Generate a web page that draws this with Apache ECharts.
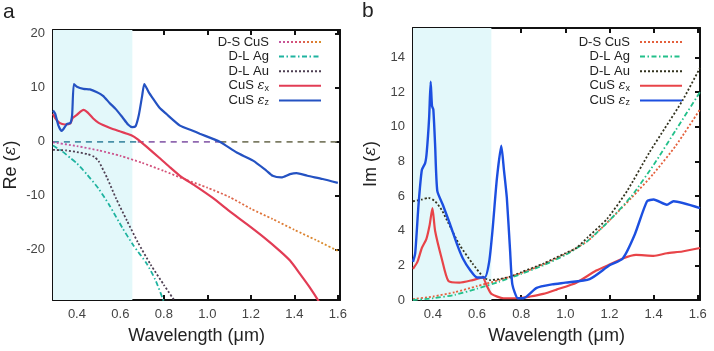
<!DOCTYPE html>
<html>
<head>
<meta charset="utf-8">
<script src="https://cdn.jsdelivr.net/npm/echarts@6/dist/echarts.min.js"></script>
<style>
html, body { margin: 0; padding: 0; background: #fff; }
#chart { width: 714px; height: 351px; }
</style>
</head>
<body>
<div id="chart"></div>
<script>
// tick labels
const wlTicks = [0.4, 0.6, 0.8, 1.0, 1.2, 1.4, 1.6];
const reTicks = [-20, -10, 0, 10, 20];
const imTicks = [0, 2, 4, 6, 8, 10, 12, 14];
const legendNames = ['D-S CuS', 'D-L Ag', 'D-L Au', 'CuS εx', 'CuS εz'];

// panel a : Re(eps), [wavelength um, value]
const reDS = [[0.29, -0.1], [0.4, -0.8], [0.5, -1.6], [0.6, -2.6], [0.7, -3.9], [0.8, -5.4], [0.9, -7.0], [1.0, -8.5], [1.1, -10.2], [1.2, -12.4], [1.3, -14.3], [1.4, -16.3], [1.5, -18.2], [1.6, -20.2]];
const reAg = [[0.29, -0.7], [0.33, -1.7], [0.37, -3.0], [0.4, -4.0], [0.445, -6.0], [0.5, -8.7], [0.55, -11.8], [0.61, -16.0], [0.66, -19.2], [0.72, -22.5], [0.76, -25.5], [0.8, -29.6]];
const reAu = [[0.29, -1.5], [0.35, -1.6], [0.4, -1.9], [0.45, -2.3], [0.48, -2.8], [0.5, -3.6], [0.54, -6.8], [0.58, -10.5], [0.63, -14.6], [0.68, -18.6], [0.74, -22.8], [0.8, -26.5], [0.85, -29.5]];
const reX = [[0.29, 5.2], [0.30, 4.4], [0.32, 3.5], [0.345, 3.2], [0.37, 3.4], [0.38, 4.4], [0.40, 5.0], [0.43, 5.9], [0.45, 5.4], [0.475, 4.3], [0.5, 3.5], [0.55, 2.6], [0.6, 1.9], [0.63, 1.5], [0.65, 1.2], [0.675, 0.6], [0.72, -0.9], [0.78, -3.0], [0.83, -4.8], [0.874, -6.3], [0.95, -8.3], [1.025, -10.4], [1.1, -12.8], [1.18, -15.2], [1.26, -17.7], [1.333, -20.2], [1.38, -22.0], [1.425, -24.4], [1.47, -26.9], [1.51, -29.4], [1.53, -31]];
const reZ = [[0.29, 5.8], [0.30, 5.2], [0.315, 3.0], [0.33, 2.0], [0.354, 3.3], [0.37, 3.5], [0.378, 5.0], [0.386, 10.7], [0.40, 10.2], [0.43, 9.8], [0.46, 9.7], [0.49, 9.2], [0.52, 8.5], [0.55, 7.2], [0.58, 6.0], [0.61, 4.5], [0.635, 3.2], [0.655, 2.7], [0.67, 2.9], [0.685, 5.0], [0.70, 8.5], [0.71, 10.7], [0.73, 9.2], [0.75, 8.0], [0.78, 6.3], [0.81, 5.2], [0.874, 3.0], [0.93, 2.1], [0.965, 1.5], [1.057, 0.0], [1.135, -2.0], [1.21, -3.5], [1.27, -5.3], [1.30, -6.3], [1.34, -6.6], [1.38, -6.0], [1.41, -5.8], [1.46, -6.3], [1.53, -6.9], [1.6, -7.6]];

// panel b : Im(eps)
const imDS = [[0.31, 0.05], [0.4, 0.2], [0.5, 0.45], [0.6, 0.8], [0.7, 1.15], [0.8, 1.55], [0.9, 2.05], [1.0, 2.65], [1.1, 3.4], [1.2, 4.6], [1.3, 5.9], [1.4, 7.3], [1.5, 8.9], [1.61, 11.0]];
const imAg = [[0.31, 0.0], [0.4, 0.1], [0.5, 0.3], [0.6, 0.65], [0.7, 1.05], [0.8, 1.5], [0.9, 2.0], [1.0, 2.6], [1.1, 3.4], [1.2, 4.6], [1.3, 6.0], [1.4, 7.8], [1.5, 9.8], [1.61, 12.0]];
const imAu = [[0.31, 5.7], [0.35, 5.8], [0.38, 5.9], [0.41, 5.7], [0.44, 5.2], [0.46, 4.7], [0.52, 3.2], [0.58, 2.1], [0.63, 1.3], [0.66, 1.15], [0.7, 1.2], [0.75, 1.35], [0.8, 1.6], [0.9, 2.1], [1.0, 2.7], [1.05, 3.0], [1.1, 3.6], [1.19, 4.7], [1.28, 6.3], [1.38, 8.5], [1.45, 9.9], [1.53, 11.5], [1.61, 13.4]];
const imX = [[0.31, 1.8], [0.33, 2.2], [0.35, 3.0], [0.37, 3.5], [0.385, 4.3], [0.398, 5.3], [0.41, 4.0], [0.44, 2.4], [0.47, 1.1], [0.52, 1.0], [0.58, 1.15], [0.625, 1.3], [0.645, 0.8], [0.665, 0.35], [0.72, 0.1], [0.78, 0.1], [0.84, 0.2], [0.9, 0.35], [0.96, 0.6], [1.05, 1.0], [1.14, 1.7], [1.21, 2.1], [1.26, 2.4], [1.32, 2.6], [1.40, 2.55], [1.46, 2.7], [1.53, 2.8], [1.61, 3.0]];
const imZ = [[0.31, 2.2], [0.32, 2.7], [0.335, 5.5], [0.35, 7.5], [0.365, 7.9], [0.372, 8.5], [0.383, 10.5], [0.39, 12.6], [0.396, 11.2], [0.402, 11.0], [0.41, 9.0], [0.42, 6.3], [0.445, 5.5], [0.477, 4.4], [0.51, 3.2], [0.536, 2.4], [0.57, 1.7], [0.6, 1.3], [0.635, 1.3], [0.655, 2.2], [0.67, 4.0], [0.69, 7.0], [0.71, 8.9], [0.722, 7.5], [0.735, 5.9], [0.75, 2.8], [0.76, 0.9], [0.785, 0.1], [0.81, 0.1], [0.87, 0.7], [0.94, 0.9], [1.0, 1.0], [1.11, 1.2], [1.2, 2.0], [1.26, 2.4], [1.315, 3.8], [1.37, 5.7], [1.40, 5.8], [1.46, 5.5], [1.49, 5.7], [1.61, 5.3]];

// shaded band and zero line pieces
const bandA = [0.29, 0.655];
const bandB = [0.31, 0.665];
const zeroTeal = [[0.29, 0], [0.68, 0]];
const zeroPurple = [[0.68, 0], [1.06, 0]];
const zeroOlive = [[1.06, 0], [1.61, 0]];

const font = 'Liberation Sans, Arial, sans-serif';
const chart = echarts.init(document.getElementById('chart'));

const xMinA = 0.29, xMaxA = 1.61, yMinA = -29.3, yMaxA = 20.7;
const xMinB = 0.31, xMaxB = 1.61, yMinB = 0, yMaxB = 15.7;

function axis(pos, min, max, ticks, grid, main, isX) {
  return {
    type: 'value',
    gridIndex: grid,
    position: pos,
    min: min,
    max: max,
    axisLine: { show: true, onZero: false, lineStyle: { color: '#111', width: 2 } },
    axisTick: { show: true, inside: true, length: 5, customValues: ticks, lineStyle: { color: '#111', width: 2 } },
    axisLabel: {
      show: main,
      customValues: ticks,
      color: '#444',
      fontSize: 13,
      fontFamily: font,
      margin: 8,
      formatter: (v) => (isX ? v.toFixed(1) : String(v)),
    },
    splitLine: { show: false },
  };
}

function line(name, data, color, type, width, g, z) {
  return {
    name: name,
    type: 'line',
    data: data,
    xAxisIndex: g * 2,
    yAxisIndex: g * 2,
    symbol: 'none',
    smooth: 0.2,
    z: z || 3,
    lineStyle: { color: color, type: type, width: width },
    itemStyle: { color: color },
  };
}

function band(range, g) {
  return {
    type: 'line',
    data: [],
    xAxisIndex: g * 2,
    yAxisIndex: g * 2,
    z: -1,
    silent: true,
    markArea: {
      silent: true,
      itemStyle: { color: '#e3f8fa' },
      data: [[{ xAxis: range[0] }, { xAxis: range[1] }]],
    },
  };
}

const dsGrad = new echarts.graphic.LinearGradient(0, 0, 1, 0, [
  { offset: 0, color: '#c058a8' },
  { offset: 0.45, color: '#d85070' },
  { offset: 0.7, color: '#e0703a' },
  { offset: 1, color: '#d89028' },
]);

const dotted = [2, 2];
const dashDot = [5, 2.5, 1.5, 2.5];

const legendFmt = (name) => {
  const n = name.slice(2);
  if (n === 'CuS εx') return 'CuS {e|ε}{s|x}{g|}';
  if (n === 'CuS εz') return 'CuS {e|ε}{s|z}{g|}';
  return n + '{g|}';
};

function legend(prefix, right) {
  return {
    orient: 'vertical',
    align: 'right',
    right: right,
    top: 35,
    padding: 0,
    itemWidth: 42,
    itemHeight: 12,
    itemGap: 0.6,
    selectedMode: false,
    itemStyle: { opacity: 0 },
    data: legendNames.map((n) => prefix + n),
    formatter: legendFmt,
    textStyle: {
      color: '#222',
      fontSize: 13,
      lineHeight: 14,
      fontFamily: font,
      rich: {
        e: { fontFamily: 'DejaVu Serif', fontStyle: 'italic', fontSize: 13, lineHeight: 14, color: '#222' },
        s: { fontSize: 9, lineHeight: 9, color: '#222', padding: [5, 0, 0, 0] },
        g: { width: 5, lineHeight: 14 },
      },
    },
  };
}

const nameStyle = {
  fontSize: 18,
  fontFamily: font,
  color: '#222',
  rich: { e: { fontFamily: 'DejaVu Serif', fontStyle: 'italic', fontSize: 17, color: '#222' } },
};

const option = {
  animation: false,
  backgroundColor: '#fff',
  textStyle: { fontFamily: font },
  grid: [
    { left: 53, right: 374, top: 30, bottom: 51 },
    { left: 413, right: 14, top: 28, bottom: 51 },
  ],
  xAxis: [
    Object.assign(axis('bottom', xMinA, xMaxA, wlTicks, 0, true, true), {
      name: 'Wavelength (μm)', nameLocation: 'middle', nameGap: 27, nameTextStyle: nameStyle,
    }),
    axis('top', xMinA, xMaxA, wlTicks, 0, false, true),
    Object.assign(axis('bottom', xMinB, xMaxB, wlTicks, 1, true, true), {
      name: 'Wavelength (μm)', nameLocation: 'middle', nameGap: 27, nameTextStyle: nameStyle,
    }),
    axis('top', xMinB, xMaxB, wlTicks, 1, false, true),
  ],
  yAxis: [
    Object.assign(axis('left', yMinA, yMaxA, reTicks, 0, true, false), {
      name: 'Re ({e|ε})', nameLocation: 'middle', nameGap: 33, nameTextStyle: nameStyle,
    }),
    axis('right', yMinA, yMaxA, reTicks, 0, false, false),
    Object.assign(axis('left', yMinB, yMaxB, imTicks, 1, true, false), {
      name: 'Im ({e|ε})', nameLocation: 'middle', nameGap: 33, nameTextStyle: nameStyle,
    }),
    axis('right', yMinB, yMaxB, imTicks, 1, false, false),
  ],
  legend: [legend('a:', 392), legend('b:', 31)],
  graphic: [
    { type: 'text', left: 3, top: 2, style: { text: 'a', fontSize: 21, fontFamily: font, fill: '#222' } },
    { type: 'text', left: 362, top: 1, style: { text: 'b', fontSize: 21, fontFamily: font, fill: '#222' } },
  ],
  series: [
    band(bandA, 0),
    line('zeroT', zeroTeal, '#4a90a8', [6, 5], 1.8, 0, 2),
    line('zeroP', zeroPurple, '#9068b0', [6, 5], 1.8, 0, 2),
    line('zeroO', zeroOlive, '#7c7c64', [6, 5], 1.8, 0, 2),
    line('a:D-S CuS', reDS, dsGrad, dotted, 1.8, 0),
    line('a:D-L Ag', reAg, '#1fb3a0', dashDot, 1.8, 0),
    line('a:D-L Au', reAu, '#4e3f52', dotted, 1.8, 0),
    line('a:CuS εx', reX, '#e23c55', 'solid', 2.2, 0, 4),
    line('a:CuS εz', reZ, '#2452c2', 'solid', 2.2, 0, 5),

    band(bandB, 1),
    line('b:D-S CuS', imDS, '#e4603c', dotted, 1.8, 1),
    line('b:D-L Ag', imAg, '#22c08a', dashDot, 1.8, 1),
    line('b:D-L Au', imAu, '#33331f', dotted, 1.8, 1),
    line('b:CuS εx', imX, '#e84448', 'solid', 2.2, 1, 4),
    line('b:CuS εz', imZ, '#1c4fe0', 'solid', 2.4, 1, 5),
  ],
};

chart.setOption(option);
</script>
</body>
</html>
